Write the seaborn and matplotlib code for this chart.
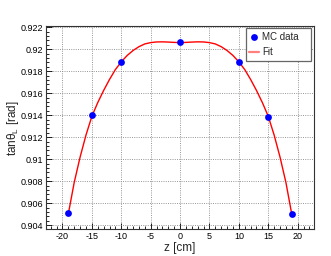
import numpy as np
import pandas as pd
import matplotlib
matplotlib.use("Agg")
import matplotlib.pyplot as plt
import seaborn as sns
from matplotlib.ticker import MultipleLocator, FuncFormatter

# MC data points
z_data = [-19, -15, -10, 0, 10, 15, 19]
tan_data = [0.90508, 0.91400, 0.91885, 0.92063, 0.91885, 0.91385, 0.90500]

# fit curve, every 1 cm
z_fit = list(range(-19, 20))
tan_fit = [0.90505, 0.90790, 0.91020, 0.91220, 0.91390, 0.91515, 0.91625,
           0.91725, 0.91815, 0.91885, 0.91943, 0.91988, 0.92023, 0.92048,
           0.92060, 0.92066, 0.92067, 0.92065, 0.92062, 0.92060, 0.92062,
           0.92065, 0.92067, 0.92066, 0.92060, 0.92048, 0.92023, 0.91988,
           0.91943, 0.91885, 0.91815, 0.91725, 0.91625, 0.91515, 0.91390,
           0.91220, 0.91020, 0.90790, 0.90500]

df_data = pd.DataFrame({"z": z_data, "tan": tan_data})
df_fit = pd.DataFrame({"z": z_fit, "tan": tan_fit})

sns.set_style("ticks")
plt.rcParams["font.family"] = ["Liberation Sans", "DejaVu Sans"]
plt.rcParams["mathtext.fontset"] = "custom"
plt.rcParams["mathtext.rm"] = "Liberation Sans"
plt.rcParams["mathtext.it"] = "Liberation Sans"

fig = plt.figure(figsize=(3.31, 2.56), dpi=100)
ax = fig.add_axes([0.139, 0.105, 0.81, 0.793])

sns.lineplot(data=df_fit, x="z", y="tan", color="red", lw=1.0, ax=ax,
             label="Fit", zorder=3)
sns.scatterplot(data=df_data, x="z", y="tan", color="blue", s=24,
                edgecolor="blue", linewidth=0, ax=ax, label="MC data", zorder=4)

ax.set_xlim(-22.8, 22.8)
ax.set_ylim(0.90365, 0.9221)

ax.xaxis.set_major_locator(MultipleLocator(5))
ax.xaxis.set_minor_locator(MultipleLocator(1))
ax.yaxis.set_major_locator(MultipleLocator(0.002))
ax.yaxis.set_minor_locator(MultipleLocator(0.0004))
ax.yaxis.set_major_formatter(FuncFormatter(lambda v, p: ("%.3f" % v).rstrip("0")))
ax.xaxis.set_major_formatter(FuncFormatter(lambda v, p: "%d" % round(v)))

ax.tick_params(which="both", direction="in", labelsize=6.5, colors="black",
               top=False, right=False, pad=2)
ax.tick_params(which="major", length=4, width=0.6)
ax.tick_params(which="minor", length=2, width=0.6)

ax.grid(True, which="major", color="#888888", ls=(0, (1.2, 1.5)), lw=0.6)
for sp in ax.spines.values():
    sp.set_linewidth(0.8)
    sp.set_color("#333333")

ax.set_xlabel("z [cm]", fontsize=8.5, labelpad=1)
ax.set_ylabel("tanθ$_{\\mathrm{L}}$ [rad]", fontsize=8.5, labelpad=-0.5)

h, l = ax.get_legend_handles_labels()
order = [l.index("MC data"), l.index("Fit")]
leg = ax.legend([h[i] for i in order], ["MC data   ", "Fit"],
                loc="upper right", bbox_to_anchor=(0.988, 0.99),
                fontsize=7, frameon=True, fancybox=False, edgecolor="#666666",
                framealpha=1, handlelength=1.0, borderpad=0.4, labelspacing=0.55,
                handletextpad=0.3, borderaxespad=0)
leg.get_frame().set_linewidth(0.9)
leg.legend_handles[1].set_alpha(0.5)
leg.legend_handles[1].set_linewidth(1.6)

fig.savefig("out.png", dpi=100)
